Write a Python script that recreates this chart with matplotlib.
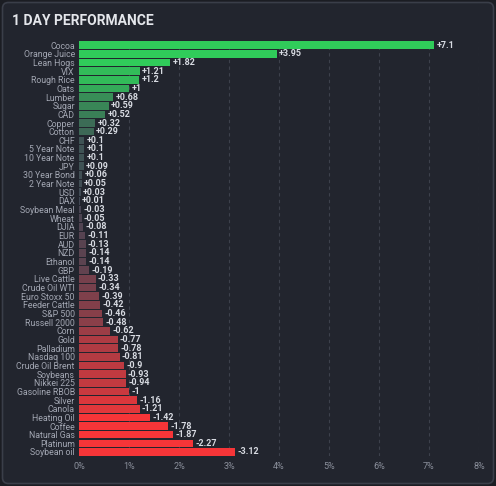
import matplotlib
matplotlib.use("Agg")
import matplotlib.pyplot as plt
import numpy as np
from matplotlib.patches import FancyBboxPatch
from matplotlib.ticker import FuncFormatter

names = ["Cocoa", "Orange Juice", "Lean Hogs", "VIX", "Rough Rice", "Oats", "Lumber",
         "Sugar", "CAD", "Copper", "Cotton", "CHF", "5 Year Note", "10 Year Note", "JPY",
         "30 Year Bond", "2 Year Note", "USD", "DAX", "Soybean Meal", "Wheat", "DJIA",
         "EUR", "AUD", "NZD", "Ethanol", "GBP", "Live Cattle", "Crude Oil WTI",
         "Euro Stoxx 50", "Feeder Cattle", "S&P 500", "Russell 2000", "Corn", "Gold",
         "Palladium", "Nasdaq 100", "Crude Oil Brent", "Soybeans", "Nikkei 225",
         "Gasoline RBOB", "Silver", "Canola", "Heating Oil", "Coffee", "Natural Gas",
         "Platinum", "Soybean oil"]
changes = [7.1, 3.95, 1.82, 1.21, 1.2, 1, 0.68, 0.59, 0.52, 0.32, 0.29, 0.1, 0.1, 0.1,
           0.09, 0.06, 0.05, 0.03, 0.01, -0.03, -0.05, -0.08, -0.11, -0.13, -0.14, -0.14,
           -0.19, -0.33, -0.34, -0.39, -0.42, -0.46, -0.48, -0.62, -0.77, -0.78, -0.81,
           -0.9, -0.93, -0.94, -1, -1.16, -1.21, -1.42, -1.78, -1.87, -2.27, -3.12]
x_ticks = [0, 1, 2, 3, 4, 5, 6, 7, 8]

BG = "#1b1d23"; CARD = "#22252e"; EDGE = "#3a3e49"
GREY = np.array([0x41, 0x45, 0x54]) / 255
GREEN = np.array([0x30, 0xcc, 0x5a]) / 255
RED = np.array([0xf6, 0x35, 0x38]) / 255

def bar_color(v, sat=1.4):
    f = min(abs(v) / sat, 1.0) ** 0.85
    tgt = GREEN if v >= 0 else RED
    return tuple(GREY + (tgt - GREY) * f)

plt.rcParams.update({"font.family": ["Roboto", "DejaVu Sans"]})
fig = plt.figure(figsize=(4.96, 4.86), dpi=100, facecolor=BG)
fig.patches.append(FancyBboxPatch((2.5 / 496, 2.5 / 486), 491 / 496, 481 / 486,
                                  boxstyle="round,pad=0,rounding_size=0.012",
                                  transform=fig.transFigure, facecolor=CARD,
                                  edgecolor=EDGE, lw=1.2, zorder=-10))
fig.text(12 / 496, 1 - 21 / 486, "1 DAY PERFORMANCE", color="#e4e6eb", fontsize=10,
         fontweight="bold", va="center", ha="left")

ax = fig.add_axes([79 / 496, 0.0611, 400 / 496, 0.855])
ax.set_facecolor("none")
y = np.arange(len(names))
vals = np.abs(changes)
ax.barh(y, vals, height=0.88, color=[bar_color(v) for v in changes], zorder=2)
for yi, v, c in zip(y, vals, changes):
    lab = f"{c:+g}"
    ax.text(v + 0.05, yi, lab, va="center", ha="left", fontsize=6.5,
            color="#d8dbe2", fontweight="bold", zorder=3)

ax.set_ylim(len(names) - 0.5, -0.5)
ax.set_xlim(0, 8)
ax.set_yticks(y)
ax.set_yticklabels(names)
ax.set_xticks(x_ticks)
ax.xaxis.set_major_formatter(FuncFormatter(lambda v, p: f"{v:g}%"))
ax.tick_params(axis="y", length=0, pad=3, labelsize=6.3, labelcolor="#a3a7b3")
ax.tick_params(axis="x", length=0, pad=4, labelsize=6.5, labelcolor="#8b909c")
for s in ax.spines.values():
    s.set_visible(False)
for t in x_ticks[1:]:
    ax.axvline(t, color="#3d414c", lw=0.8, ls=(0, (3, 3)), zorder=1)

fig.savefig("out.png", dpi=100, facecolor=BG)
